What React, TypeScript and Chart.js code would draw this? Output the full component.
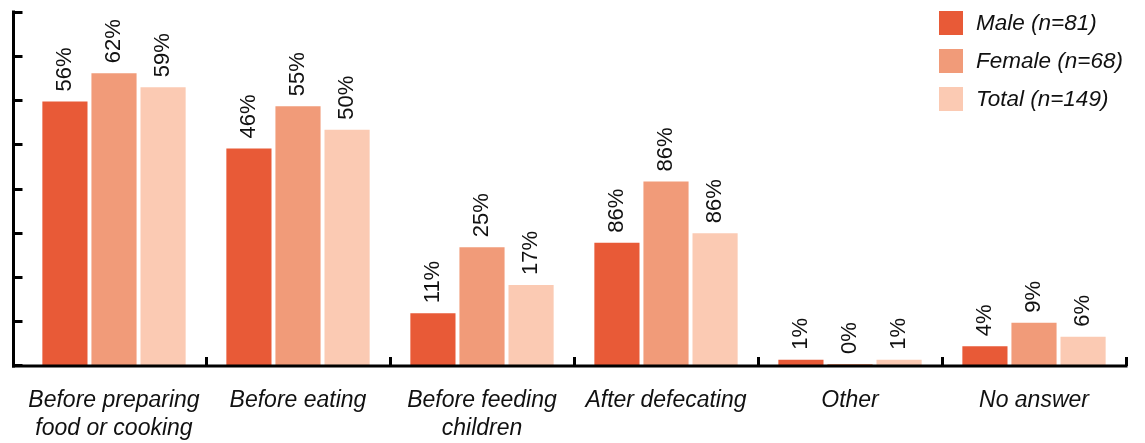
import React, { useEffect, useRef } from "react";
import { Chart, registerables } from "chart.js";

Chart.register(...registerables);

const categories: string[][] = [
  ["Before preparing", "food or cooking"],
  ["Before eating"],
  ["Before feeding", "children"],
  ["After defecating"],
  ["Other"],
  ["No answer"],
];

const seriesNames = ["Male (n=81)", "Female (n=68)", "Total (n=149)"];
const seriesColors = ["#E85A37", "#F19B79", "#FBCAB3"];

// bar heights as drawn
const maleValues = [56, 46, 11, 26, 1.1, 4];
const femaleValues = [62, 55, 25, 39, 0.2, 9];
const totalValues = [59, 50, 17, 28, 1.1, 6];

// value labels as printed
const maleLabels = ["56%", "46%", "11%", "86%", "1%", "4%"];
const femaleLabels = ["62%", "55%", "25%", "86%", "0%", "9%"];
const totalLabels = ["59%", "50%", "17%", "86%", "1%", "6%"];

const yMax = 75;
const yStep = 9.375;

const FONT = '"Liberation Sans", Arial, Helvetica, sans-serif';

export default function App() {
  const ref = useRef<HTMLCanvasElement | null>(null);

  useEffect(() => {
    document.body.style.margin = "0";
    const canvas = ref.current;
    if (!canvas) return;

    const labelSets = [maleLabels, femaleLabels, totalLabels];

    const axesPlugin = {
      id: "customAxes",
      afterDatasetsDraw(chart: any) {
        const ctx = chart.ctx;
        const x = chart.scales.x;
        const y = chart.scales.y;
        ctx.save();
        ctx.strokeStyle = "#000";
        ctx.lineWidth = 3;
        ctx.lineCap = "butt";
        const axisX = 13.5;
        const zeroY = y.getPixelForValue(0) + 1;
        const topY = y.getPixelForValue(yMax);
        // y axis line
        ctx.beginPath();
        ctx.moveTo(axisX, topY - 1.5);
        ctx.lineTo(axisX, zeroY + 1.5);
        ctx.stroke();
        // y ticks
        y.ticks.forEach((t: any) => {
          const py = Math.round(y.getPixelForValue(t.value)) + 0.5;
          ctx.beginPath();
          ctx.moveTo(axisX, py);
          ctx.lineTo(axisX + 9, py);
          ctx.stroke();
        });
        // x axis line
        const rightEnd = x.getPixelForValue(categories.length - 0.5);
        ctx.beginPath();
        ctx.moveTo(axisX - 1.5, zeroY);
        ctx.lineTo(rightEnd + 1.5, zeroY);
        ctx.stroke();
        // category boundary ticks
        for (let i = 0; i < categories.length; i++) {
          const px = Math.round(x.getPixelForValue(i + 0.5)) + 0.5;
          ctx.beginPath();
          ctx.moveTo(px, zeroY);
          ctx.lineTo(px, zeroY - 9);
          ctx.stroke();
        }
        ctx.restore();

        // value labels
        ctx.save();
        ctx.fillStyle = "#111";
        ctx.font = `22px ${FONT}`;
        ctx.textAlign = "left";
        ctx.textBaseline = "middle";
        chart.data.datasets.forEach((ds: any, di: number) => {
          const meta = chart.getDatasetMeta(di);
          meta.data.forEach((bar: any, i: number) => {
            ctx.save();
            ctx.translate(bar.x, bar.y - 10);
            ctx.rotate(-Math.PI / 2);
            ctx.fillText(labelSets[di][i], 0, 0);
            ctx.restore();
          });
        });
        ctx.restore();

        // legend
        ctx.save();
        ctx.font = `italic 22.5px ${FONT}`;
        ctx.textAlign = "left";
        ctx.textBaseline = "middle";
        chart.data.datasets.forEach((ds: any, di: number) => {
          const top = 11 + di * 38;
          ctx.fillStyle = ds.backgroundColor;
          ctx.fillRect(939, top, 24, 24);
          ctx.fillStyle = "#111";
          ctx.fillText(ds.label, 976, top + 13);
        });
        ctx.restore();
      },
    };

    const chart = new Chart(canvas, {
      type: "bar",
      data: {
        labels: categories,
        datasets: [
          { label: seriesNames[0], data: maleValues, backgroundColor: seriesColors[0] },
          { label: seriesNames[1], data: femaleValues, backgroundColor: seriesColors[1] },
          { label: seriesNames[2], data: totalValues, backgroundColor: seriesColors[2] },
        ],
      },
      options: {
        animation: false,
        responsive: false,
        maintainAspectRatio: false,
        layout: { padding: { left: 22, right: 19, top: 12, bottom: 0 } },
        plugins: {
          legend: { display: false },
          tooltip: { enabled: false },
        },
        datasets: {
          bar: { categoryPercentage: 0.8, barPercentage: 0.92 },
        },
        scales: {
          x: {
            grid: { display: false, drawTicks: false },
            border: { display: false },
            ticks: {
              color: "#111",
              font: { family: FONT, size: 23, style: "italic", lineHeight: 1.22 },
              padding: 22,
              maxRotation: 0,
              autoSkip: false,
            },
            afterFit(scale: any) {
              scale.height = 443 - 365;
            },
          },
          y: {
            min: 0,
            max: yMax,
            grid: { display: false, drawTicks: false },
            border: { display: false },
            ticks: { display: false, stepSize: yStep },
            afterFit(scale: any) {
              scale.width = 0;
            },
          },
        },
      },
      plugins: [axesPlugin],
    } as any);

    return () => chart.destroy();
  }, []);

  return (
    <div style={{ position: "absolute", left: 0, top: 0, width: 1145, height: 443 }}>
      <canvas ref={ref} width={1145} height={443} style={{ width: 1145, height: 443 }} />
    </div>
  );
}
